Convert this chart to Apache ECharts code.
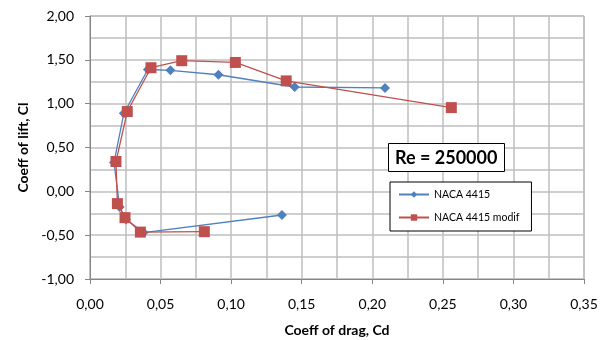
<!DOCTYPE html>
<html><head><meta charset="utf-8">
<script src="https://cdn.jsdelivr.net/npm/echarts@6/dist/echarts.min.js"></script>
<style>html,body{margin:0;padding:0;background:#fff}#c{width:600px;height:340px}</style>
</head><body><div id="c"></div>
<script>
var seriesNames = ["NACA 4415", "NACA 4415 modif"];
var cdNaca = [0.136, 0.038, 0.0255, 0.021, 0.017, 0.024, 0.041, 0.057, 0.091, 0.145, 0.209];
var clNaca = [-0.27, -0.47, -0.32, -0.18, 0.33, 0.89, 1.39, 1.38, 1.33, 1.19, 1.18];
var cdModif = [0.081, 0.0357, 0.0248, 0.0194, 0.0184, 0.0264, 0.0432, 0.065, 0.103, 0.139, 0.256];
var clModif = [-0.46, -0.465, -0.30, -0.14, 0.34, 0.91, 1.41, 1.49, 1.47, 1.26, 0.955];
var xTitle = "Coeff of drag, Cd";
var yTitle = "Coeff of lift, Cl";
var boxText = "Re = 250000";

function pairs(xs, ys){ return xs.map(function(x,i){return [x, ys[i]];}); }
function fmt(v){ return v.toFixed(2).replace('.', ','); }
var FONT = 'Lato, "Open Sans", sans-serif';
var chart = echarts.init(document.getElementById('c'), null, {renderer:'canvas'});
chart.setOption({
  animation:false,
  textStyle:{fontFamily:FONT},
  title:{
    text: boxText, left: 388, top: 143,
    borderColor:'#000', borderWidth:1, padding:[6,7,5,7], backgroundColor:'#fff',
    textStyle:{fontFamily:FONT, fontSize:18, fontWeight:'bold', color:'#000'}
  },
  legend:{
    orient:'vertical', left:390, top:182, width:140,
    borderColor:'#000', borderWidth:1, backgroundColor:'#fff',
    padding:[7,12,8,8], itemGap:12, itemWidth:30, itemHeight:8,
    textStyle:{fontFamily:FONT, fontSize:10.5, color:'#000'},
    data: seriesNames
  },
  grid:{left:90, right:16, top:16, bottom:61, show:true, borderColor:'#a6a6a6', borderWidth:1,
        containLabel:false, outerBoundsMode:'none'},
  xAxis:{
    type:'value', min:0, max:0.35, interval:0.05,
    name:xTitle, nameLocation:'middle', nameGap:44,
    nameTextStyle:{fontFamily:FONT, fontSize:14, fontWeight:'bold', color:'#000'},
    axisLine:{show:true, onZero:false, lineStyle:{color:'#868686'}},
    axisTick:{show:true, length:5, lineStyle:{color:'#868686'}},
    axisLabel:{formatter:fmt, fontSize:14, color:'#000', margin:18, fontFamily:FONT},
    splitLine:{show:true, lineStyle:{color:'#bfbfbf', width:1.5}},
    minorTick:{show:false, splitNumber:2},
    minorSplitLine:{show:true, lineStyle:{color:'#bfbfbf', width:1.5}}
  },
  yAxis:{
    type:'value', min:-1, max:2, interval:0.5,
    name:yTitle, nameLocation:'middle', nameGap:56, nameRotate:90,
    nameTextStyle:{fontFamily:FONT, fontSize:14, fontWeight:'bold', color:'#000'},
    axisLine:{show:true, onZero:false, lineStyle:{color:'#868686'}},
    axisTick:{show:true, length:5, lineStyle:{color:'#868686'}},
    axisLabel:{formatter:fmt, fontSize:14, color:'#000', margin:16, fontFamily:FONT},
    splitLine:{show:true, lineStyle:{color:'#bfbfbf', width:1.5}},
    minorTick:{show:false, splitNumber:2},
    minorSplitLine:{show:true, lineStyle:{color:'#bfbfbf', width:1.5}}
  },
  series:[
    {name:seriesNames[0], type:'line', data:pairs(cdNaca, clNaca),
     symbol:'diamond', symbolSize:10, showAllSymbol:true,
     lineStyle:{color:'#4f81bd', width:1.3}, itemStyle:{color:'#4f81bd'}, z:2},
    {name:seriesNames[1], type:'line', data:pairs(cdModif, clModif),
     symbol:'rect', symbolSize:11, showAllSymbol:true,
     lineStyle:{color:'#c0504d', width:1.3}, itemStyle:{color:'#c0504d'}, z:3}
  ]
});
</script></body></html>
